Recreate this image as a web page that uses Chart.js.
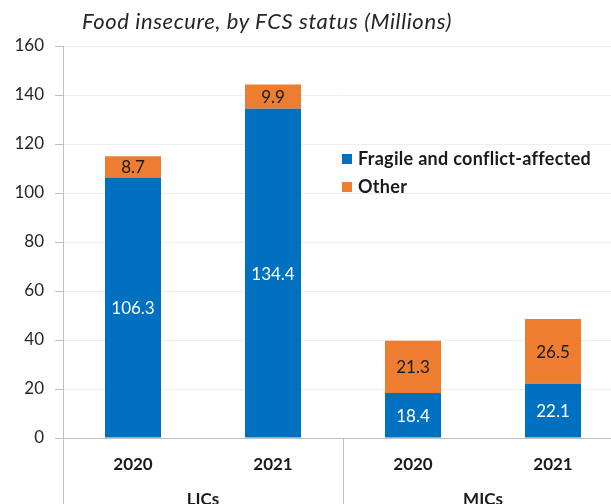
<!DOCTYPE html>
<html>
<head>
<meta charset="utf-8">
<script src="https://cdn.jsdelivr.net/npm/chart.js@4.4.1/dist/chart.umd.min.js"></script>
<style>
  html, body { margin: 0; padding: 0; background: #fff; }
  #wrap { position: relative; width: 611px; height: 504px; overflow: hidden; }
  #chart { position: absolute; left: 0; top: 0; }
  #title {
    position: absolute; left: 82px; top: 7px;
    font: italic 22px Lato, sans-serif; letter-spacing: 0.6px; color: #262626; white-space: nowrap;
  }
  #legend { position: absolute; left: 342px; top: 147px; font: bold 18px Lato, sans-serif; letter-spacing: 0.3px; color: #1a1a1a; }
  #legend div { height: 28px; line-height: 22px; white-space: nowrap; }
  #legend span { display: inline-block; width: 10px; height: 10px; margin-right: 6px; vertical-align: 1px; }
</style>
</head>
<body>
<div id="wrap">
  <canvas id="chart" width="625" height="504"></canvas>
  <div id="title">Food insecure, by FCS status (Millions)</div>
  <div id="legend"></div>
</div>
<script>
const groups = ['LICs', 'MICs']
const years = ['2020', '2021', '2020', '2021']
const fragile = [106.3, 134.4, 18.4, 22.1]
const other = [8.7, 9.9, 21.3, 26.5]

const BLUE = '#0070c0'
const ORANGE = '#ed7d31'
const LINE = '#bfbfbf'

// value labels in the middle of each stacked segment
const segmentLabels = {
  id: 'segmentLabels',
  afterDatasetsDraw(chart) {
    const ctx = chart.ctx
    ctx.save()
    ctx.font = '17px Lato, sans-serif'
    ctx.textAlign = 'center'
    ctx.textBaseline = 'middle'
    chart.data.datasets.forEach((ds, i) => {
      chart.getDatasetMeta(i).data.forEach((bar, j) => {
        ctx.fillStyle = ds.labelColor
        ctx.fillText(ds.data[j].toFixed(1), bar.x, (bar.y + bar.base) / 2 + 1)
      })
    })
    ctx.restore()
  }
}

// vertical dividers between the LICs / MICs groups under the axis
const groupDividers = {
  id: 'groupDividers',
  afterDraw(chart) {
    const x = chart.scales.x
    const ctx = chart.ctx
    const edges = [x.left, (x.getPixelForValue(1) + x.getPixelForValue(2)) / 2, x.right]
    ctx.save()
    ctx.strokeStyle = LINE
    ctx.lineWidth = 1
    edges.forEach(px => {
      const p = Math.round(px) + 0.5
      ctx.beginPath()
      ctx.moveTo(p, chart.chartArea.bottom)
      ctx.lineTo(p, chart.height)
      ctx.stroke()
    })
    ctx.restore()
  }
}

const chart = new Chart(document.getElementById('chart'), {
  type: 'bar',
  data: {
    labels: years,
    datasets: [
      { label: 'Fragile and conflict-affected', data: fragile, backgroundColor: BLUE, labelColor: '#ffffff' },
      { label: 'Other', data: other, backgroundColor: ORANGE, labelColor: '#1a1a1a' },
    ]
  },
  options: {
    responsive: false,
    animation: false,
    barPercentage: 0.4,
    categoryPercentage: 1,
    layout: { padding: { top: 46, right: 2, bottom: 0, left: 0 } },
    plugins: {
      legend: { display: false },
      tooltip: { enabled: false },
    },
    scales: {
      x: {
        stacked: true,
        grid: { display: false },
        border: { color: LINE },
        ticks: { color: '#1a1a1a', font: { family: 'Lato', size: 17, weight: 'bold' }, padding: 8 },
        afterFit: s => { s.height = 40 },
      },
      group: {
        type: 'category',
        labels: groups,
        position: 'bottom',
        weight: 1,
        offset: true,
        grid: { display: false },
        border: { display: false },
        ticks: { color: '#1a1a1a', font: { family: 'Lato', size: 17, weight: 'bold' }, padding: 3 },
        afterFit: s => { s.height = 26 },
      },
      y: {
        stacked: true,
        min: 0,
        max: 160,
        ticks: { stepSize: 20, color: '#262626', font: { family: 'Lato', size: 17 }, padding: 11 },
        grid: { color: '#eeeeee', tickColor: LINE, tickLength: 8 },
        border: { color: LINE },
        afterFit: s => { s.width = 63 },
      }
    }
  },
  plugins: [segmentLabels, groupDividers]
})

// legend entries from the datasets
document.getElementById('legend').innerHTML = chart.data.datasets
  .map(ds => `<div><span style="background:${ds.backgroundColor}"></span>${ds.label}</div>`)
  .join('')
</script>
</body>
</html>
